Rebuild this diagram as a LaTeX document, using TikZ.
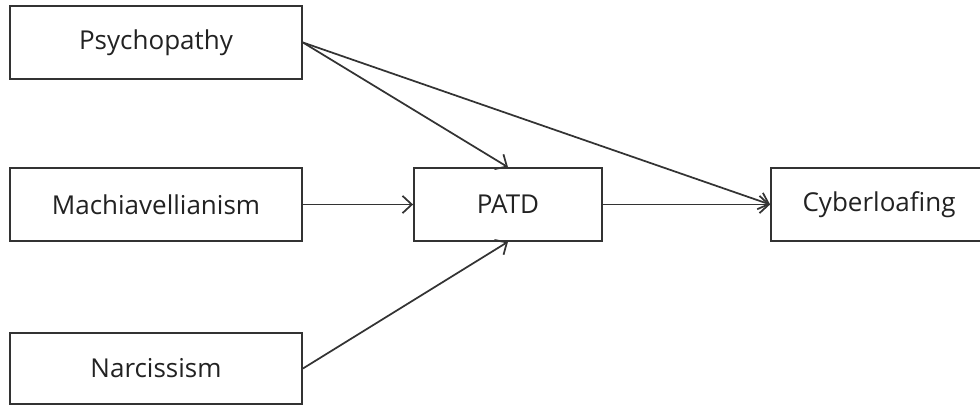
\documentclass[tikz,border=0pt]{standalone}
\usepackage{fontspec}
\setmainfont{Open Sans}
\usetikzlibrary{arrows.meta}
\definecolor{linec}{HTML}{333333}
\definecolor{textc}{HTML}{222222}
\newcommand{\lowtext}[1]{\raisebox{-1.8pt}{#1}}
\begin{document}
\begin{tikzpicture}[x=0.75pt,y=-0.75pt,
  box/.style={draw=linec,line width=1.4pt,fill=white,rectangle,inner sep=0pt,
    text=textc,font=\fontsize{19.5}{22}\selectfont},
  conn/.style={draw=linec,line width=1.3pt,-{Straight Barb[length=7pt,width=13pt,line width=1.3pt]}}]
\useasboundingbox (0,0) rectangle (980,406);
\node[box,minimum width=219pt,minimum height=54.5pt] (psy) at (156,42.5) {\lowtext{Psychopathy}};
\node[box,minimum width=219pt,minimum height=55pt] (mach) at (156,204.5) {\lowtext{Machiavellianism}};
\node[box,minimum width=219pt,minimum height=53.5pt] (narc) at (156,368.5) {\lowtext{Narcissism}};
\node[box,minimum width=141pt,minimum height=54.5pt] (patd) at (508,204.5) {\lowtext{PATD}};
\node[box,minimum width=159pt,minimum height=54.5pt] (cyb) at (877,204.5) {\hspace*{9pt}\lowtext{Cyberloafing}\hspace*{6pt}};
\draw[conn] (psy.east) -- (patd.north);
\draw[conn] (psy.east) -- (cyb.west);
\draw[conn] (mach.east) -- (patd.west);
\draw[conn] (narc.east) -- (patd.south);
\draw[conn] (patd.east) -- (cyb.west);
\end{tikzpicture}
\end{document}
